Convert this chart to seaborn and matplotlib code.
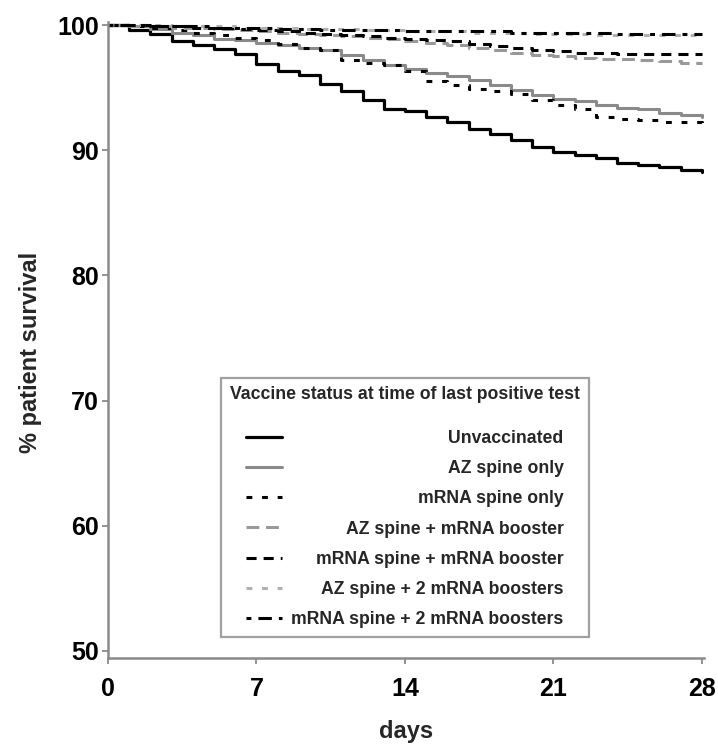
import numpy as np
import pandas as pd
import matplotlib
matplotlib.use("Agg")
import matplotlib.pyplot as plt
import seaborn as sns
from matplotlib.font_manager import FontProperties

# ---------------- data ----------------
days = list(range(0, 29))

unvaccinated = [100, 99.6, 99.3, 98.7, 98.4, 98.1, 97.7, 96.9, 96.3, 96.0, 95.3, 94.7, 94.0, 93.3, 93.1,
                92.7, 92.3, 91.7, 91.3, 90.8, 90.3, 89.9, 89.6, 89.35, 89.0, 88.8, 88.7, 88.4, 88.3]
az_only = [100, 99.9, 99.7, 99.4, 99.2, 98.9, 98.8, 98.6, 98.4, 98.2, 98.0, 97.6, 97.2, 96.8, 96.5,
           96.2, 95.9, 95.6, 95.2, 94.8, 94.4, 94.1, 93.9, 93.6, 93.4, 93.3, 93.0, 92.8, 92.7]
mrna_only = [100, 99.9, 99.8, 99.6, 99.4, 99.2, 99.0, 98.8, 98.5, 98.2, 98.0, 97.2, 97.0, 96.8, 96.3,
             95.5, 95.2, 94.9, 94.7, 94.5, 94.0, 93.6, 93.3, 92.7, 92.5, 92.4, 92.3, 92.3, 92.2]
az_booster = [100, 99.9, 99.9, 99.8, 99.8, 99.7, 99.6, 99.5, 99.4, 99.3, 99.2, 99.1, 99.0, 98.9, 98.7,
              98.6, 98.4, 98.2, 98.0, 97.8, 97.6, 97.5, 97.4, 97.3, 97.3, 97.2, 97.1, 97.0, 97.0]
mrna_booster = [100, 100, 99.9, 99.9, 99.8, 99.8, 99.7, 99.6, 99.5, 99.4, 99.3, 99.2, 99.1, 99.0, 98.9,
                98.8, 98.7, 98.5, 98.3, 98.2, 98.0, 97.9, 97.8, 97.8, 97.7, 97.7, 97.7, 97.7, 97.7]
az_2boosters = [100, 100, 100, 99.9, 99.9, 99.9, 99.8, 99.8, 99.8, 99.7, 99.7, 99.7, 99.6, 99.6, 99.5,
                99.5, 99.5, 99.4, 99.4, 99.4, 99.3, 99.3, 99.3, 99.2, 99.2, 99.2, 99.2, 99.2, 99.2]
mrna_2boosters = [100, 100, 99.9, 99.9, 99.9, 99.8, 99.8, 99.8, 99.7, 99.7, 99.6, 99.6, 99.6, 99.6, 99.5,
                  99.5, 99.5, 99.5, 99.5, 99.4, 99.4, 99.4, 99.4, 99.4, 99.3, 99.3, 99.3, 99.3, 99.3]

groups = ["Unvaccinated", "AZ spine only", "mRNA spine only", "AZ spine + mRNA booster",
          "mRNA spine + mRNA booster", "AZ spine + 2 mRNA boosters", "mRNA spine + 2 mRNA boosters"]
series = [unvaccinated, az_only, mrna_only, az_booster, mrna_booster, az_2boosters, mrna_2boosters]

x_ticks = [0, 7, 14, 21, 28]
y_ticks = [50, 60, 70, 80, 90, 100]
legend_title = "Vaccine status at time of last positive test"

df = pd.DataFrame({
    "day": np.tile(days, len(groups)),
    "survival": np.concatenate(series),
    "group": np.repeat(groups, len(days)),
})

# ---------------- styles ----------------
styles = {
    "Unvaccinated": dict(color="#000000", lw=2.3, ls="-"),
    "AZ spine only": dict(color="#8a8a8a", lw=2.2, ls="-"),
    "mRNA spine only": dict(color="#000000", lw=2.2, ls=(0, (1.9, 3.2))),
    "AZ spine + mRNA booster": dict(color="#999999", lw=2.2, ls=(0, (4.2, 2.2))),
    "mRNA spine + mRNA booster": dict(color="#000000", lw=2.2, ls=(0, (3.3, 2.3))),
    "AZ spine + 2 mRNA boosters": dict(color="#b0b0b0", lw=2.2, ls=(0, (1.9, 3.2))),
    "mRNA spine + 2 mRNA boosters": dict(color="#000000", lw=2.2, ls=(0, (1.6, 2.3, 4.4, 2.3))),
}

sns.set_theme(style="white")
plt.rcParams["font.family"] = ["Liberation Sans", "DejaVu Sans"]
plt.rcParams["font.weight"] = "bold"

fig = plt.figure(figsize=(7.18, 7.5), dpi=100)
ax = fig.add_axes([108 / 718, 92 / 750, 596 / 718, 636 / 750])

for g in groups:
    st = styles[g]
    sns.lineplot(data=df[df["group"] == g], x="day", y="survival", ax=ax,
                 color=st["color"], linewidth=st["lw"], linestyle=st["ls"],
                 drawstyle="steps-post", errorbar=None, label=g, legend=False)

ax.set_xlim(0, 28.1)
ax.set_ylim(49.44, 100.25)
ax.set_xticks(x_ticks)
ax.set_yticks(y_ticks)
ax.set_xticklabels([str(v) for v in x_ticks], fontsize=18, fontweight="bold")
ax.set_yticklabels([str(v) for v in y_ticks], fontsize=18, fontweight="bold")
ax.tick_params(axis="both", which="major", direction="out", length=4.5, width=1.3,
               color="#8a8a8a", labelcolor="black")
ax.tick_params(axis="x", pad=9)
ax.tick_params(axis="y", pad=2)
ax.xaxis.set_ticks_position("bottom")
ax.yaxis.set_ticks_position("left")

for side in ["top", "right"]:
    ax.spines[side].set_visible(False)
for side in ["left", "bottom"]:
    ax.spines[side].set_color("#8a8a8a")
    ax.spines[side].set_linewidth(1.8)

ax.set_xlabel("days", fontsize=17, fontweight="bold", labelpad=14)
ax.set_ylabel("% patient survival", fontsize=17, fontweight="bold")
ax.yaxis.set_label_coords(-0.11, 0.48)
ax.grid(False)

handles = ax.get_lines()[:len(groups)]
leg = ax.legend(handles, groups, title=legend_title, loc="lower left",
                bbox_to_anchor=(0.19, 0.033), frameon=True, fancybox=False,
                edgecolor="#8a8a8a", facecolor="white",
                prop=FontProperties(family="Liberation Sans", weight="bold", size=12.7),
                title_fontproperties=FontProperties(family="Liberation Sans", weight="bold", size=12.7),
                handlelength=2.0, handletextpad=0.55, labelspacing=0.75, borderpad=0.5,
                borderaxespad=0)
leg.get_frame().set_linewidth(1.6)
leg._legend_box.sep = 19

fig.canvas.draw()
r = fig.canvas.get_renderer()
widths = [t.get_window_extent(r).width for t in leg.get_texts()]
wmax = max(widths)
for t, w in zip(leg.get_texts(), widths):
    t.set_ha("left")
    t.set_position((wmax - w, 0))

fig.savefig("out.png", dpi=100)
